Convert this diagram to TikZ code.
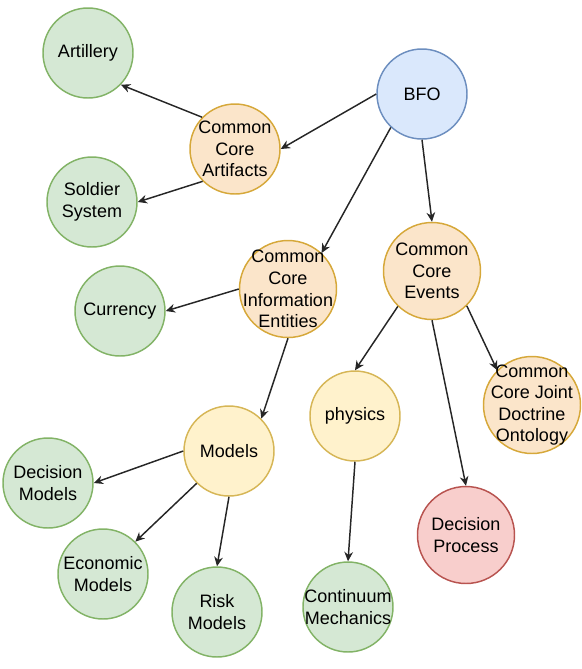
\documentclass[tikz,border=0pt]{standalone}
\usepackage{fontspec}
\setmainfont{Liberation Sans}
\usepackage{xcolor}
\usepackage{tikz}
\usetikzlibrary{arrows.meta}
\definecolor{leafgreen}{HTML}{D5E8D4}
\definecolor{leafedge}{HTML}{82B366}
\definecolor{corefill}{HTML}{FBE5CA}
\definecolor{coreedge}{HTML}{D6A83A}
\definecolor{rootfill}{HTML}{DAE8FC}
\definecolor{rootedge}{HTML}{6C8EBF}
\definecolor{modelfill}{HTML}{FFF2CC}
\definecolor{modeledge}{HTML}{D6B656}
\definecolor{procfill}{HTML}{F8CECC}
\definecolor{procedge}{HTML}{B85450}
\tikzset{
    concept/.style={circle, draw, line width=1.1pt, minimum size=67.5pt, inner sep=-20pt, align=center, font=\fontsize{13.5}{16.2}\selectfont},
    leaf/.style={concept, fill=leafgreen, draw=leafedge},
    core/.style={concept, fill=corefill, draw=coreedge},
    root/.style={concept, fill=rootfill, draw=rootedge},
    model/.style={concept, fill=modelfill, draw=modeledge},
    proc/.style={concept, fill=procfill, draw=procedge},
    wide/.style={minimum size=72.75pt},
    arrow/.style={line width=1.1pt, draw=black!85, -{Stealth[length=7pt, width=6.5pt]}}
}

\begin{document}
\begin{tikzpicture}[x=0.75pt, y=-0.75pt]
    \useasboundingbox (0,0) rectangle (582,669);

    \node (bfo) [root] at (422,94) {BFO};
    \node (cca) [core] at (235,149) {Common\\Core\\Artifacts};
    \node (art) [leaf] at (88,53) {Artillery};
    \node (sol) [leaf] at (92,202) {Soldier\\System};
    \node (ccie) [core, wide] at (288,289) {Common\\Core\\Information\\Entities};
    \node (cce) [core, wide] at (432,271) {Common\\Core\\Events};
    \node (cur) [leaf] at (120,311) {Currency};
    \node (phys) [model] at (355,416) {physics};
    \node (jdo) [core, wide] at (532,405) {Common\\Core Joint\\Doctrine\\Ontology};
    \node (mod) [model] at (229,451) {Models};
    \node (dmod) [leaf] at (48,483) {Decision\\Models};
    \node (emod) [leaf] at (103,574) {Economic\\Models};
    \node (rmod) [leaf] at (217,612) {Risk\\Models};
    \node (dproc) [proc, wide] at (466,535) {Decision\\Process};
    \node (cmech) [leaf] at (348,607) {Continuum\\Mechanics};

    \draw [arrow] (bfo.180) -- (cca.0);
    \draw [arrow] (bfo.227) -- (ccie.47);
    \draw [arrow] (bfo.270) -- (cce.90);
    \draw [arrow] (cca.136) -- (art.-44);
    \draw [arrow] (cca.225) -- (sol.0);
    \draw [arrow] (ccie.180) -- (cur.0);
    \draw [arrow] (ccie.270) -- (mod.45);
    \draw [arrow] (cce.226) -- (phys.90);
    \draw [arrow] (cce.270) -- (dproc.90);
    \draw [arrow] (cce.-45) -- (jdo.135);
    \draw [arrow] (phys.270) -- (cmech.90);
    \draw [arrow] (mod.180) -- (dmod.0);
    \draw [arrow] (mod.225) -- (emod.45);
    \draw [arrow] (mod.270) -- (rmod.90);
\end{tikzpicture}
\end{document}
